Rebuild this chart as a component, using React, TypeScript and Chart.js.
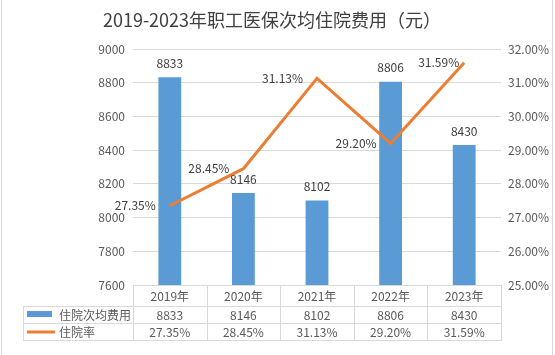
import React, { useEffect, useRef } from 'react';
import { Chart, registerables } from 'chart.js';

Chart.register(...registerables);

const title = '2019-2023年职工医保次均住院费用（元）';
const categories = ['2019年', '2020年', '2021年', '2022年', '2023年'];
const costName = '住院次均费用';
const costValues = [8833, 8146, 8102, 8806, 8430];
const rateName = '住院率';
const rateValues = [27.35, 28.45, 31.13, 29.2, 31.59];
const costAxis = { min: 7600, max: 9000, step: 200 };
const rateAxis = { min: 25, max: 32, step: 1 };

const FONT = '"Noto Sans CJK SC", "Noto Sans", sans-serif';
const BLUE = '#5B9BD5';
const ORANGE = '#ED7D31';
const TEXT = '#595959';
const DARK = '#404040';
const GRID = '#D9D9D9';

const pct = (v: number) => v.toFixed(2) + '%';

const overlay = {
  id: 'overlay',
  afterDraw(chart: any) {
    const ctx = chart.ctx as CanvasRenderingContext2D;
    const area = chart.chartArea;
    ctx.save();
    // frame edges
    ctx.strokeStyle = GRID;
    ctx.lineWidth = 1;
    ctx.beginPath();
    ctx.moveTo(1.5, 0); ctx.lineTo(1.5, 355);
    ctx.moveTo(552.5, 0); ctx.lineTo(552.5, 355);
    ctx.stroke();

    // title
    ctx.fillStyle = DARK;
    ctx.font = `18px ${FONT}`;
    ctx.textAlign = 'center';
    ctx.textBaseline = 'middle';
    ctx.fillText(title, 272, 20);

    // data labels
    ctx.font = `12px ${FONT}`;
    const barMeta = chart.getDatasetMeta(0);
    barMeta.data.forEach((el: any, i: number) => {
      ctx.textAlign = 'center';
      ctx.fillStyle = DARK;
      ctx.fillText(String(costValues[i]), el.x, el.y - 14);
    });
    const lineMeta = chart.getDatasetMeta(1);
    lineMeta.data.forEach((el: any, i: number) => {
      ctx.textAlign = 'right';
      ctx.fillStyle = DARK;
      ctx.fillText(pct(rateValues[i]), el.x - (i === rateValues.length - 1 ? 5 : 14), el.y);
    });

    // data table
    const left = area.left;
    const right = area.right;
    const top = area.bottom;
    const r1 = top + 21;
    const r2 = r1 + 17;
    const r3 = r2 + 17;
    const tableLeft = 23;
    const n = categories.length;
    const colW = (right - left) / n;
    ctx.strokeStyle = GRID;
    ctx.lineWidth = 1;
    ctx.beginPath();
    for (let i = 0; i <= n; i++) {
      const x = Math.round(left + colW * i) + 0.5;
      ctx.moveTo(x, top); ctx.lineTo(x, r3);
    }
    ctx.moveTo(tableLeft + 0.5, r1); ctx.lineTo(tableLeft + 0.5, r3);
    [r1, r2, r3].forEach((y) => {
      ctx.moveTo(tableLeft, Math.round(y) + 0.5);
      ctx.lineTo(Math.round(right) + 1, Math.round(y) + 0.5);
    });
    ctx.stroke();

    ctx.fillStyle = TEXT;
    ctx.font = `12px ${FONT}`;
    ctx.textAlign = 'center';
    ctx.textBaseline = 'middle';
    categories.forEach((c, i) => {
      const cx = left + colW * (i + 0.5);
      ctx.fillText(c, cx, (top + r1) / 2 + 0.5);
      ctx.fillText(String(costValues[i]), cx, (r1 + r2) / 2 + 0.5);
      ctx.fillText(pct(rateValues[i]), cx, (r2 + r3) / 2 + 0.5);
    });

    // legend keys
    ctx.fillStyle = BLUE;
    ctx.fillRect(27, r1 + 5, 25, 6);
    ctx.strokeStyle = ORANGE;
    ctx.lineWidth = 3;
    ctx.beginPath();
    ctx.moveTo(27, (r2 + r3) / 2 + 0.5);
    ctx.lineTo(55, (r2 + r3) / 2 + 0.5);
    ctx.stroke();
    ctx.fillStyle = TEXT;
    ctx.font = `12px ${FONT}`;
    ctx.textAlign = 'left';
    ctx.fillText(costName, 59, (r1 + r2) / 2 + 0.5);
    ctx.fillText(rateName, 59, (r2 + r3) / 2 + 0.5);
    ctx.restore();
  },
};

export default function App() {
  const ref = useRef<HTMLCanvasElement | null>(null);
  useEffect(() => {
    if (!ref.current) return;
    const chart = new Chart(ref.current, {
      type: 'bar',
      data: {
        labels: categories,
        datasets: [
          {
            type: 'bar',
            label: costName,
            data: costValues,
            backgroundColor: BLUE,
            yAxisID: 'y',
            categoryPercentage: 1,
            barPercentage: 0.31,
            order: 2,
          },
          {
            type: 'line',
            label: rateName,
            data: rateValues,
            borderColor: ORANGE,
            backgroundColor: ORANGE,
            borderWidth: 3,
            pointRadius: 0,
            tension: 0,
            yAxisID: 'y1',
            order: 1,
          } as any,
        ],
      },
      options: {
        responsive: false,
        animation: false,
        layout: { padding: { top: 49, bottom: 70, left: 0, right: 0 } },
        plugins: { legend: { display: false }, tooltip: { enabled: false }, title: { display: false } },
        scales: {
          x: { display: false, offset: true },
          y: {
            position: 'left',
            min: costAxis.min,
            max: costAxis.max,
            ticks: {
              stepSize: costAxis.step,
              color: TEXT,
              font: { family: FONT, size: 12 },
              padding: 8,
              callback: (v: any) => String(v),
            },
            grid: { color: GRID, drawTicks: false },
            border: { display: false },
            afterFit: (s: any) => { s.width = 133; },
          },
          y1: {
            position: 'right',
            min: rateAxis.min,
            max: rateAxis.max,
            ticks: {
              stepSize: rateAxis.step,
              color: TEXT,
              font: { family: FONT, size: 12 },
              padding: 7,
              callback: (v: any) => pct(Number(v)),
            },
            grid: { drawOnChartArea: false, drawTicks: false },
            border: { display: false },
            afterFit: (s: any) => { s.width = 54; },
          },
        },
      },
      plugins: [overlay],
    });
    return () => chart.destroy();
  }, []);
  return (
    <div style={{ position: 'fixed', left: 0, top: 0, width: 555, height: 355, background: '#fff' }}>
      <canvas ref={ref} width={555} height={355} />
    </div>
  );
}
